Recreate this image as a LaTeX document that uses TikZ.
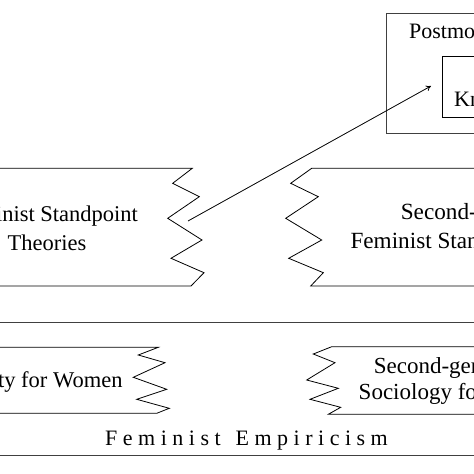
\documentclass[tikz,border=0pt]{standalone}
\usepackage{fontspec}
\setmainfont{Liberation Serif}
\usetikzlibrary{arrows.meta}
\begin{document}
\begin{tikzpicture}[x=1bp,y=-1bp,
  frame/.style={draw=black!75,line width=1bp},
  tear/.style={draw=black,line width=0.8bp,line join=miter},
  midtext/.style={inner sep=0pt,align=center,font=\fontsize{22.5bp}{29bp}\selectfont},
  lowtext/.style={inner sep=0pt,align=center,font=\fontsize{23bp}{26bp}\selectfont},
  toptext/.style={inner sep=0pt,font=\fontsize{22bp}{27bp}\selectfont},
  link/.style={draw=black,line width=0.8bp,-{To[length=5bp,width=6bp]}}]
\useasboundingbox (0,0) rectangle (474,474);
% top: postmodern box
\draw[frame] (490,14) -- (386,14) -- (386,134) -- (490,134);
\draw[tear] (490,56) -- (442,56) -- (442,117) -- (490,117);
\node[toptext,anchor=base west] (pm) at (409,38.5) {Postmodernism};
\node[toptext,anchor=base west] (kn) at (454,107) {Knowledges};
% middle row
\draw[tear] (-5,168.3) -- (192.3,168.3) -- (172.7,183.3) -- (199.3,196.7) -- (167.7,218.3)
  -- (202,240) -- (171,258.3) -- (204,272.7) -- (191,286) -- (-5,286);
\node[midtext] (fst) at (47,228) {Feminist Standpoint\\Theories};
\draw[tear] (490,168.3) -- (311.7,168.3) -- (290.7,183.3) -- (318.3,196.7) -- (285.7,218.3)
  -- (321.7,240) -- (288.7,258.3) -- (323.3,272.7) -- (310.7,286) -- (490,286);
\node[midtext,font=\fontsize{23.2bp}{29bp}\selectfont] (sgfst) at (487.8,228) {Second-generation\\Feminist Standpoint Theories};
% bottom: feminist empiricism
\draw[frame] (-5,322) -- (490,322);
\draw[frame] (-5,455) -- (490,455);
\draw[tear] (-5,347.3) -- (158.3,347.3) -- (138.3,355) -- (165,362.7) -- (133.3,377.3)
  -- (166.7,389.3) -- (136.7,399.3) -- (169.3,408.3) -- (156.7,413.3) -- (-5,413.3);
\node[toptext,font=\fontsize{22.5bp}{27bp}\selectfont,anchor=base east] (efw) at (122.7,387) {Equality for Women};
\draw[tear] (490,346.7) -- (331.7,346.7) -- (313.3,354) -- (335,362.7) -- (306.7,380)
  -- (338.3,388.3) -- (310,399.3) -- (340.7,407.3) -- (328.3,414.3) -- (490,414.3);
\node[lowtext] (sgsw) at (460,381) {Second-generation\\Sociology for Women};
\node[inner sep=0pt,anchor=base,font=\fontsize{22bp}{27bp}\selectfont\addfontfeature{LetterSpace=25}] (fe) at (246.5,445) {Feminist\hspace{4bp} Empiricism};
% arrow
\coordinate (a0) at (188,221);
\coordinate (a1) at (431,86);
\draw[link] (a0) -- (a1);
\end{tikzpicture}
\end{document}
